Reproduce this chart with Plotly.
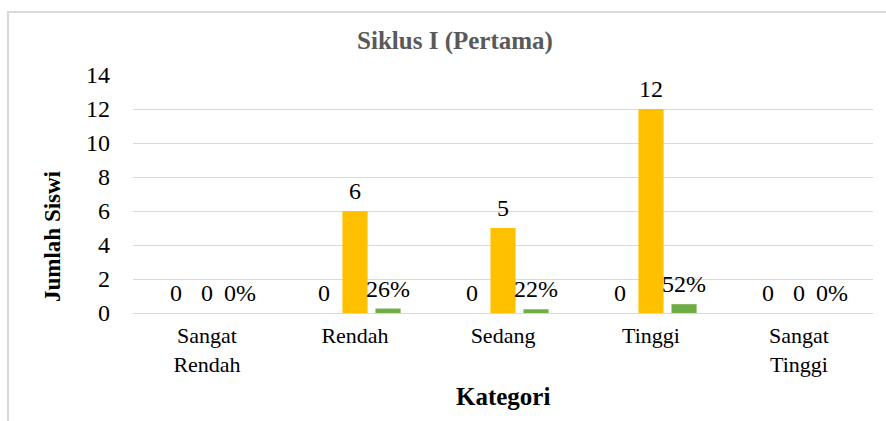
import plotly.graph_objects as go

categories = ["Sangat Rendah", "Rendah", "Sedang", "Tinggi", "Sangat Tinggi"]
tick_labels = ["Sangat<br>Rendah", "Rendah", "Sedang", "Tinggi", "Sangat<br>Tinggi"]
series_a = [0, 0, 0, 0, 0]            # first series (all zero)
jumlah = [0, 6, 5, 12, 0]             # jumlah siswi
persen = [0.0, 0.26, 0.22, 0.52, 0.0] # persentase

W, H = 886, 421
L, R, T, B = 133, 13, 75, 108
PW, PH = W - L - R, H - T - B

def px_x(p):
    return (p - L) / PW

def px_y(p):
    return (H - B - p) / PH

FONT = "Liberation Serif, Times New Roman, serif"
fs = 24

fig = go.Figure()
series = [
    (series_a, "#4472C4", [str(v) for v in series_a], -31),
    (jumlah, "#FFC000", [str(v) for v in jumlah], 0),
    (persen, "#70AD47", [f"{round(v*100)}%" for v in persen], 33),
]
for vals, col, labels, xs in series:
    fig.add_trace(go.Bar(x=categories, y=vals, marker_color=col, marker_line_width=0,
                         showlegend=False, hoverinfo="skip"))
    for c, v, t in zip(categories, vals, labels):
        fig.add_annotation(x=c, y=v, text=t, showarrow=False, xshift=xs, yshift=20,
                           yanchor="middle", xanchor="center",
                           font=dict(family=FONT, size=fs, color="#000000"))

fig.update_layout(
    width=W, height=H,
    margin=dict(l=L, r=R, t=T, b=B),
    paper_bgcolor="white", plot_bgcolor="white",
    barmode="group", bargap=0.33, bargroupgap=0.24,
    title=dict(text="<b>Siklus I (Pertama)</b>", x=455 / W, xanchor="center",
               y=1 - 40 / H, yanchor="middle",
               font=dict(family=FONT, size=25, color="#595959")),
    font=dict(family=FONT, size=fs, color="#000000"),
)
fig.update_yaxes(range=[0, 14], dtick=2, showgrid=True, gridcolor="#D9D9D9", gridwidth=1,
                 zeroline=False, showline=False, ticks="", ticklabelstandoff=22,
                 tickfont=dict(family=FONT, size=fs, color="#000000"), fixedrange=True)
fig.update_xaxes(tickvals=categories, ticktext=tick_labels, showline=True, linecolor="#D9D9D9",
                 linewidth=1, ticks="", ticklabelstandoff=3,
                 tickfont=dict(family=FONT, size=22, color="#000000"), fixedrange=True)

fig.add_annotation(text="<b>Jumlah Siswi</b>", xref="paper", yref="paper",
                   x=px_x(52), y=px_y(236), textangle=-90, showarrow=False,
                   xanchor="center", yanchor="middle",
                   font=dict(family=FONT, size=23, color="#000000"))
fig.add_annotation(text="<b>Kategori</b>", xref="paper", yref="paper",
                   x=px_x(503), y=px_y(396), showarrow=False,
                   xanchor="center", yanchor="middle",
                   font=dict(family=FONT, size=25, color="#000000"))

# chart frame
fig.add_shape(type="line", xref="paper", yref="paper", x0=px_x(8), x1=px_x(8),
              y0=px_y(12), y1=px_y(425), line=dict(color="#D9D9D9", width=2))
fig.add_shape(type="line", xref="paper", yref="paper", x0=px_x(7), x1=px_x(890),
              y0=px_y(12), y1=px_y(12), line=dict(color="#D9D9D9", width=2))

fig.write_html("out.html", config={"displayModeBar": False},
               post_script="document.body.style.margin='0';document.body.style.overflow='hidden';")
